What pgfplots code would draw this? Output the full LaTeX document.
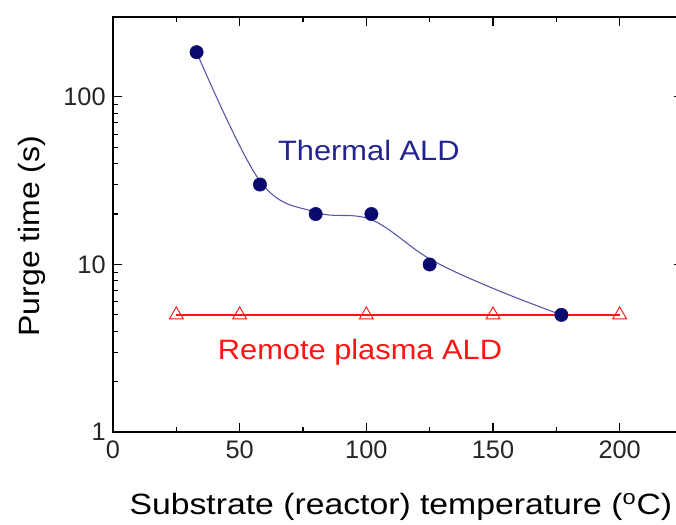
\documentclass[border=0pt]{standalone}
\usepackage{pgfplots}
\pgfplotsset{compat=1.18}
\usepackage{fontspec}
\setmainfont{Liberation Sans}
\definecolor{navy}{RGB}{10,10,110}
\definecolor{curveblue}{RGB}{85,85,165}
\definecolor{txtnavy}{RGB}{35,35,145}
\definecolor{plred}{RGB}{255,20,20}
\begin{document}
\begin{tikzpicture}
\begin{axis}[
  at={(0,0)}, anchor=south west,
  scale only axis, width=427.5pt, height=311.25pt,
  xmin=0, xmax=225, ymin=1, ymax=300,
  ymode=log,
  xtick={0,50,100,150,200},
  minor x tick num=1,
  ytick={1,10,100},
  yticklabels={1,10,100},
  tick align=inside,
  major tick length=7pt, minor tick length=4pt,
  tick style={black, line width=0.8pt},
  axis line style={black, line width=1pt},
  ticklabel style={font=\fontsize{19}{22}\selectfont, text=black!85},
  xticklabel style={yshift=-3pt},
  yticklabel style={xshift=-2pt},
  /pgf/number format/assume math mode=true,
  xlabel={\scalebox{1.15}[1]{Substrate (reactor) temperature (\textsuperscript{o}C)}},
  ylabel={\scalebox{1.09}[1]{Purge time (s)}},
  label style={font=\fontsize{22}{26}\selectfont},
  xlabel style={at={(axis description cs:0.505,-0.2)}, anchor=base},
  ylabel style={at={(axis description cs:-0.142,0.472)}, anchor=center},
  clip=false,
]
\addplot[plred, line width=1.1pt, mark=triangle, mark size=6pt, mark options={fill=white, line width=0.7pt, fill opacity=1}] coordinates {
  (25,5) (50,5) (100,5) (150,5) (200,5)
};
\addplot[curveblue, line width=0.8pt, smooth, tension=0.6] coordinates {
  (33,185) (58,31.5) (80,20.5) (102,18.5) (125,10.8) (150,7.2) (177,5)
};
\addplot[only marks, mark=*, mark size=5pt, navy, mark options={fill=navy}] coordinates {
  (33,185) (58,30) (80,20) (102,20) (125,10) (177,5)
};
\node[text=txtnavy, font=\fontsize{21}{24}\selectfont] at (axis cs:101,48) {\scalebox{1.1}[1]{Thermal ALD}};
\node[text=plred, font=\fontsize{21}{24}\selectfont] at (axis cs:97.5,3.0) {\scalebox{1.1}[1]{Remote plasma ALD}};
\end{axis}
\pgfresetboundingbox
\useasboundingbox (-84.75pt,-69.75pt) rectangle (422.25pt,324pt);
\end{tikzpicture}
\end{document}
